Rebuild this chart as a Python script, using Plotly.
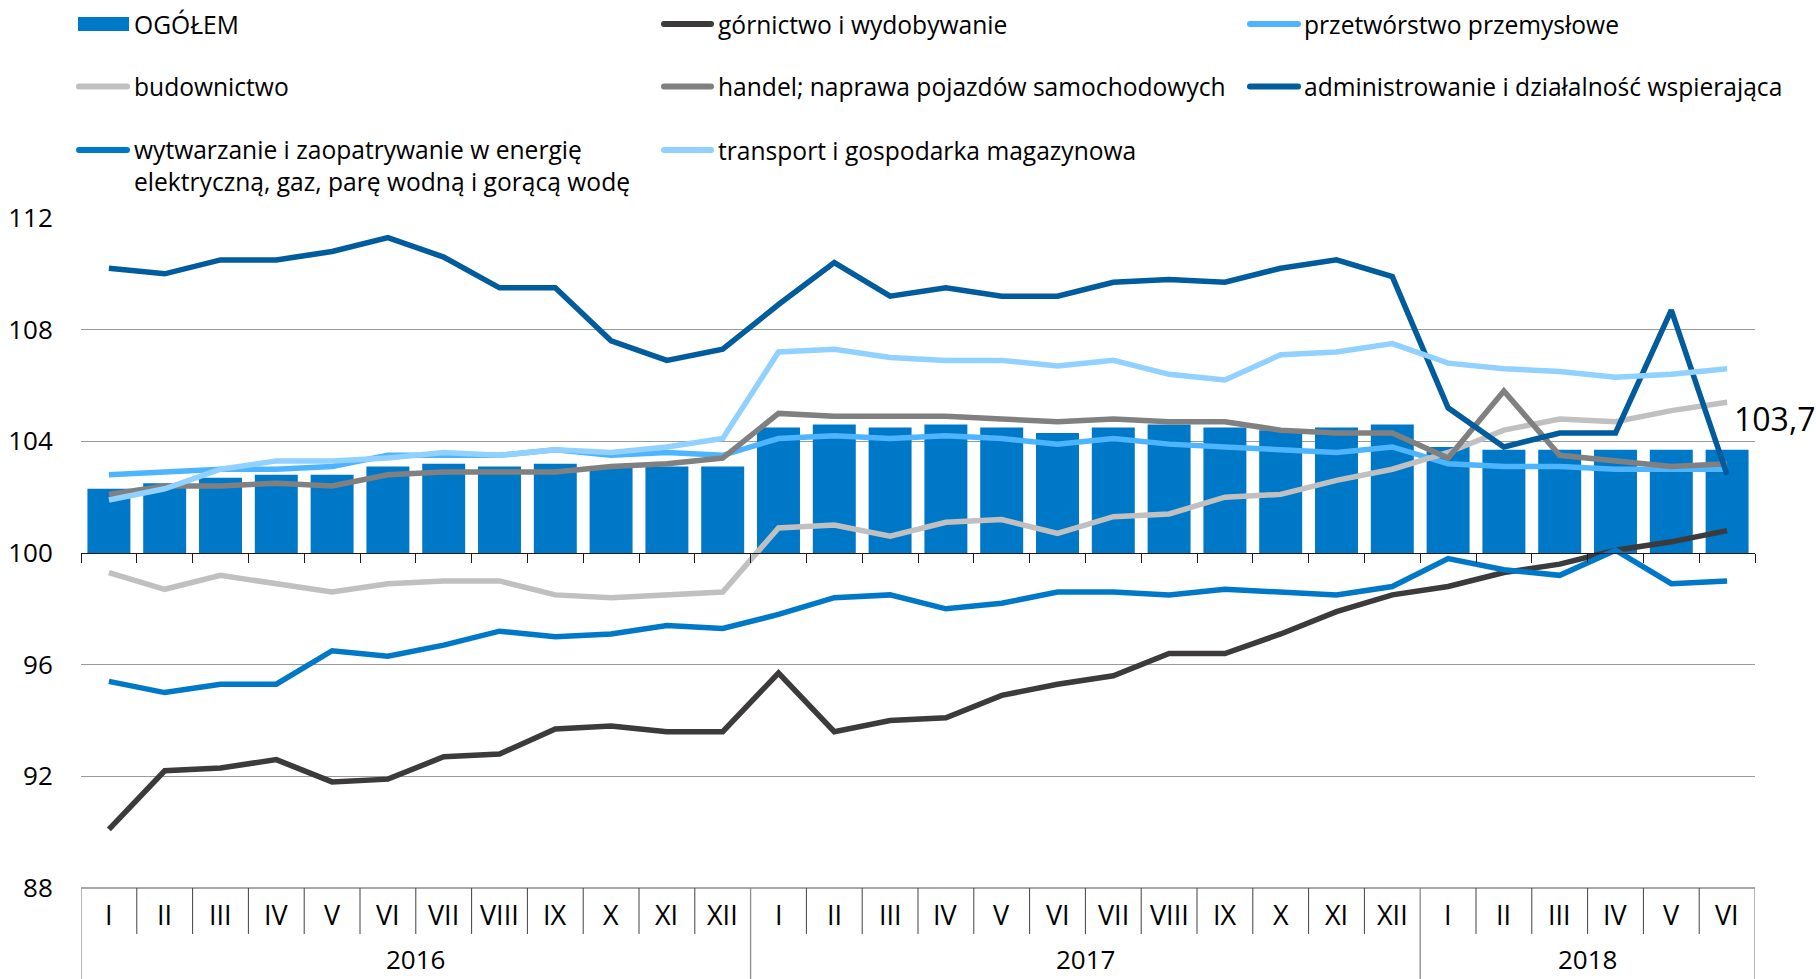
import plotly.graph_objects as go

# ---------------- data ----------------
months = ["I", "II", "III", "IV", "V", "VI", "VII", "VIII", "IX", "X", "XI", "XII",
          "I", "II", "III", "IV", "V", "VI", "VII", "VIII", "IX", "X", "XI", "XII",
          "I", "II", "III", "IV", "V", "VI"]
years = ["2016", "2017", "2018"]
year_lengths = [12, 12, 6]

ogolem = [102.3, 102.5, 102.7, 102.8, 102.8, 103.1, 103.2, 103.1, 103.2, 103.1, 103.1, 103.1,
          104.5, 104.6, 104.5, 104.6, 104.5, 104.3, 104.5, 104.6, 104.5, 104.4, 104.5, 104.6,
          103.8, 103.7, 103.7, 103.7, 103.7, 103.7]
gornictwo = [90.1, 92.2, 92.3, 92.6, 91.8, 91.9, 92.7, 92.8, 93.7, 93.8, 93.6, 93.6,
             95.7, 93.6, 94.0, 94.1, 94.9, 95.3, 95.6, 96.4, 96.4, 97.1, 97.9, 98.5,
             98.8, 99.3, 99.6, 100.1, 100.4, 100.8]
przetworstwo = [102.8, 102.9, 103.0, 103.0, 103.1, 103.5, 103.5, 103.5, 103.7, 103.5, 103.6, 103.5,
                104.1, 104.2, 104.1, 104.2, 104.1, 103.9, 104.1, 103.9, 103.8, 103.7, 103.6, 103.8,
                103.2, 103.1, 103.1, 103.0, 103.0, 103.0]
budownictwo = [99.3, 98.7, 99.2, 98.9, 98.6, 98.9, 99.0, 99.0, 98.5, 98.4, 98.5, 98.6,
               100.9, 101.0, 100.6, 101.1, 101.2, 100.7, 101.3, 101.4, 102.0, 102.1, 102.6, 103.0,
               103.6, 104.4, 104.8, 104.7, 105.1, 105.4]
handel = [102.1, 102.4, 102.4, 102.5, 102.4, 102.8, 102.9, 102.9, 102.9, 103.1, 103.2, 103.4,
          105.0, 104.9, 104.9, 104.9, 104.8, 104.7, 104.8, 104.7, 104.7, 104.4, 104.3, 104.3,
          103.4, 105.8, 103.5, 103.3, 103.1, 103.2]
administrowanie = [110.2, 110.0, 110.5, 110.5, 110.8, 111.3, 110.6, 109.5, 109.5, 107.6, 106.9, 107.3,
                   108.9, 110.4, 109.2, 109.5, 109.2, 109.2, 109.7, 109.8, 109.7, 110.2, 110.5, 109.9,
                   105.2, 103.8, 104.3, 104.3, 108.7, 102.8]
wytwarzanie = [95.4, 95.0, 95.3, 95.3, 96.5, 96.3, 96.7, 97.2, 97.0, 97.1, 97.4, 97.3,
               97.8, 98.4, 98.5, 98.0, 98.2, 98.6, 98.6, 98.5, 98.7, 98.6, 98.5, 98.8,
               99.8, 99.4, 99.2, 100.1, 98.9, 99.0]
transport = [101.9, 102.3, 103.0, 103.3, 103.3, 103.4, 103.6, 103.5, 103.7, 103.6, 103.8, 104.1,
             107.2, 107.3, 107.0, 106.9, 106.9, 106.7, 106.9, 106.4, 106.2, 107.1, 107.2, 107.5,
             106.8, 106.6, 106.5, 106.3, 106.4, 106.6]

bar_name = "OGÓŁEM"
line_names = ["górnictwo i wydobywanie",
              "przetwórstwo przemysłowe",
              "budownictwo",
              "handel; naprawa pojazdów samochodowych",
              "administrowanie i działalność wspierająca",
              "wytwarzanie i zaopatrywanie w energię<br>elektryczną, gaz, parę wodną i gorącą wodę",
              "transport i gospodarka magazynowa"]
line_values = [gornictwo, przetworstwo, budownictwo, handel, administrowanie, wytwarzanie, transport]
last_label = "103,7"

# ---------------- style ----------------
BAR_COLOR = "#0078c8"
line_colors = ["#3c3a3a", "#4db5ff", "#c0c0c0", "#808080", "#005c9c", "#0078c8", "#91d1ff"]
FONT = "Open Sans"
W, H = 1816, 979
ML, MR, MT, MB = 81, 61, 218, 91
PW, PH = W - ML - MR, H - MT - MB
YMIN, YMAX = 88, 112
BASE = 100


def px_x(px):
    return (px - ML) / PW


def px_y(py):
    return (H - MB - py) / PH


n = len(months)
xs = list(range(n))

fig = go.Figure()
fig.add_trace(go.Bar(x=xs, y=[v - BASE for v in ogolem], base=BASE, marker_color=BAR_COLOR,
                     marker_line_width=0, name=bar_name, showlegend=False))
for name, vals, col in zip(line_names, line_values, line_colors):
    fig.add_trace(go.Scatter(x=xs, y=vals, mode="lines", name=name, showlegend=False,
                             line=dict(color=col, width=5.5)))

shapes = []
annotations = []

# bottom category table
GRAY = "#8c8c8c"
DARK = "#404040"
shapes.append(dict(type="line", xref="x", yref="paper", x0=-0.5, x1=n - 0.5, y0=0, y1=0,
                   line=dict(color=GRAY, width=1.3)))
year_bounds = [-0.5]
acc = -0.5
for L in year_lengths:
    acc += L
    year_bounds.append(acc)
for k in range(n + 1):
    b = k - 0.5
    if any(abs(b - yb) < 1e-9 for yb in year_bounds):
        shapes.append(dict(type="line", xref="x", yref="paper", x0=b, x1=b, y0=0, y1=px_y(H),
                           line=dict(color=GRAY, width=1.3)))
    else:
        shapes.append(dict(type="line", xref="x", yref="paper", x0=b, x1=b, y0=0, y1=px_y(934),
                           line=dict(color=DARK, width=1)))
for i, m in enumerate(months):
    annotations.append(dict(x=i, y=px_y(914), xref="x", yref="paper", text=m, showarrow=False,
                            xanchor="center", yanchor="middle",
                            font=dict(family=FONT, size=27, color="#000")))
start = 0
for yname, L in zip(years, year_lengths):
    annotations.append(dict(x=start + (L - 1) / 2, y=px_y(959), xref="x", yref="paper", text=yname,
                            showarrow=False, xanchor="center", yanchor="middle",
                            font=dict(family=FONT, size=26, color="#000")))
    start += L

# value label at the last bar
annotations.append(dict(x=xs[-1], y=ogolem[-1], xref="x", yref="y", text=last_label, showarrow=False,
                        xanchor="left", yanchor="middle", xshift=5, yshift=31,
                        font=dict(family=FONT, size=32, color="#000")))

# manual legend
legend_entries = [(bar_name, BAR_COLOR, "bar")] + [(nm, c, "line") for nm, c in zip(line_names, line_colors)]
col_sym_x = [(76, 130), (661, 714), (1247, 1301)]
col_text_x = [132, 716, 1302]
row_y = [24, 86.5, 150]
LEG_SIZE = 24.6
for idx, (nm, col, kind) in enumerate(legend_entries):
    r, c = divmod(idx, 3)
    x0, x1 = col_sym_x[c]
    yc = row_y[r]
    if kind == "bar":
        shapes.append(dict(type="rect", xref="paper", yref="paper",
                           x0=px_x(x0 + 2), x1=px_x(x1 - 1), y0=px_y(yc - 7), y1=px_y(yc + 7),
                           fillcolor=col, line=dict(width=0)))
    else:
        w = x1 - x0
        rr = 3
        path = (f"M {rr},{-rr} L {w - rr},{-rr} Q {w},{-rr} {w},0 Q {w},{rr} {w - rr},{rr} "
                f"L {rr},{rr} Q 0,{rr} 0,0 Q 0,{-rr} {rr},{-rr} Z")
        shapes.append(dict(type="path", xref="paper", yref="paper", xsizemode="pixel",
                           ysizemode="pixel", xanchor=px_x(x0), yanchor=px_y(yc), path=path,
                           fillcolor=col, line=dict(width=0)))
    if "<br>" in nm:
        annotations.append(dict(x=px_x(col_text_x[c]), y=px_y(yc + 15.5), xref="paper", yref="paper",
                                text=nm, showarrow=False, xanchor="left", yanchor="middle",
                                align="left", font=dict(family=FONT, size=LEG_SIZE, color="#000")))
    else:
        annotations.append(dict(x=px_x(col_text_x[c]), y=px_y(yc), xref="paper", yref="paper",
                                text=nm, showarrow=False, xanchor="left", yanchor="middle",
                                font=dict(family=FONT, size=LEG_SIZE, color="#000")))

fig.update_layout(
    width=W, height=H,
    margin=dict(l=ML, r=MR, t=MT, b=MB, pad=0, autoexpand=False),
    plot_bgcolor="white", paper_bgcolor="white",
    bargap=0.23,
    showlegend=False,
    font=dict(family=FONT, size=26, color="#000"),
    shapes=shapes,
    annotations=annotations,
    xaxis=dict(range=[-0.5, n - 0.5], showgrid=False, zeroline=False, automargin=False,
               anchor="free", position=(BASE - YMIN) / (YMAX - YMIN),
               showline=True, linecolor="#1a1a1a", linewidth=1.3,
               tickmode="array", tickvals=[k - 0.5 for k in range(n + 1)],
               ticks="outside", ticklen=9, tickwidth=1.3, tickcolor="#1a1a1a",
               showticklabels=False, fixedrange=True),
    yaxis=dict(range=[YMIN, YMAX], tickmode="array", tickvals=list(range(YMIN, YMAX + 1, 4)),
               showgrid=True, gridcolor="#9a9a9a", gridwidth=1.2, zeroline=False, automargin=False,
               showline=False, ticks="outside", ticklen=22, tickcolor="rgba(0,0,0,0)",
               tickfont=dict(family=FONT, size=26, color="#000"), fixedrange=True),
)

fig.write_html("out.html", config={"displayModeBar": False},
               post_script="document.body.style.margin='0px';document.body.style.overflow='hidden';")
